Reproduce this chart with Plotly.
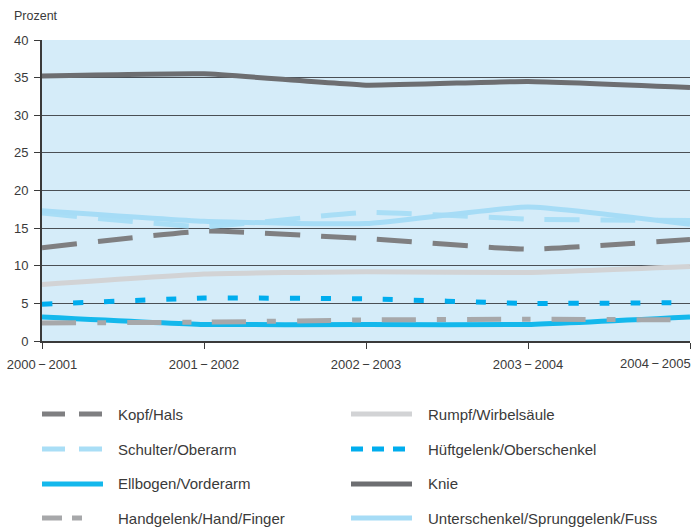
import plotly.graph_objects as go

W, H = 694, 528
# plot area in page pixels
PX0, PX1, PY0, PY1 = 42, 690, 40, 341
ML = PX0
MR = W - PX1
MT = PY0
MB = H - PY1

period_labels = ["2000\u2009\u2212\u20092001", "2001\u2009\u2212\u20092002", "2002\u2009\u2212\u20092003",
                 "2003\u2009\u2212\u20092004", "2004\u2009\u2212\u20092005"]
x_pos = [0, 1, 2, 3, 4]

kopf_hals = [12.4, 14.6, 13.6, 12.2, 13.5]
rumpf = [7.5, 8.9, 9.2, 9.1, 9.9]
schulter = [17.0, 15.2, 17.1, 16.2, 16.0]
hueftgelenk = [4.9, 5.7, 5.6, 5.0, 5.1]
ellbogen = [3.2, 2.2, 2.2, 2.2, 3.2]
knie = [35.2, 35.5, 34.0, 34.5, 33.7]
handgelenk = [2.4, 2.5, 2.8, 2.9, 2.8]
unterschenkel = [17.3, 15.9, 15.6, 17.8, 15.5]

y_ticks = [0, 5, 10, 15, 20, 25, 30, 35, 40]

# name, values, colour, plot dash, legend dash
series = [
    ("Kopf/Hals", kopf_hals, "#7f7f81", "35px,21px", "23px,14px"),
    ("Rumpf/Wirbelsäule", rumpf, "#d2d3d5", "solid", "solid"),
    ("Schulter/Oberarm", schulter, "#a9def6", "35px,21px", "23px,14px"),
    ("Hüftgelenk/Oberschenkel", hueftgelenk, "#00adee", "10px,21px", "12px,9px"),
    ("Ellbogen/Vorderarm", ellbogen, "#14b8ec", "solid", "solid"),
    ("Knie", knie, "#6d6e71", "solid", "solid"),
    ("Handgelenk/Hand/Finger", handgelenk, "#a7a8aa", "34px,21px,9px,21px", "20px,10px,10px,60px"),
    ("Unterschenkel/Sprunggelenk/Fuss", unterschenkel, "#a6dcf6", "solid", "solid"),
]
draw_order = [1, 4, 6, 3, 0, 2, 7, 5]

FONT = "Liberation Sans, Arial, sans-serif"
TXT = "#3a3a3a"

fig = go.Figure()
for i in draw_order:
    name, vals, col, dash, _ = series[i]
    fig.add_trace(go.Scatter(
        x=x_pos, y=vals, mode="lines", name=name,
        line=dict(color=col, width=5, dash=dash, shape="spline", smoothing=0.4),
        showlegend=False, hoverinfo="skip",
    ))

pw = PX1 - PX0
ph = PY1 - PY0
def px_x(px):
    return (px - PX0) / pw
def px_y(py):
    return (PY1 - py) / ph

# manual legend, two columns x four rows
col_sym_x = [42, 351]
col_txt_x = [116, 426]
sym_len = 61
row_y = [414, 449, 484, 518]

shapes = []
annotations = []
for k, (name, vals, col, _, ldash) in enumerate(series):
    r, c = k // 2, k % 2
    y = px_y(row_y[r])
    shapes.append(dict(
        type="line", xref="paper", yref="paper",
        x0=px_x(col_sym_x[c]), x1=px_x(col_sym_x[c] + sym_len),
        y0=y, y1=y,
        line=dict(color=col, width=5, dash=ldash),
    ))
    annotations.append(dict(
        text=name, xref="paper", yref="paper",
        x=px_x(col_txt_x[c]), y=y, xanchor="left", yanchor="middle",
        showarrow=False, font=dict(family=FONT, size=15, color=TXT),
    ))

annotations.append(dict(
    text="Prozent", xref="paper", yref="paper",
    x=px_x(12), y=px_y(16), xanchor="left", yanchor="middle",
    showarrow=False, font=dict(family=FONT, size=12.5, color=TXT),
))
# last x label right-aligned so it stays inside the page
annotations.append(dict(
    text=period_labels[-1], xref="x", yref="paper",
    x=x_pos[-1], y=px_y(363), xanchor="right", yanchor="middle", xshift=3,
    showarrow=False, font=dict(family=FONT, size=13, color=TXT),
))

ticktext = period_labels[:-1] + [""]

fig.update_layout(
    width=W, height=H,
    margin=dict(l=ML, r=MR, t=MT, b=MB, pad=0),
    paper_bgcolor="white",
    plot_bgcolor="#d5ecf9",
    shapes=shapes,
    annotations=annotations,
    showlegend=False,
    font=dict(family=FONT, size=13, color=TXT),
)
fig.update_xaxes(
    range=[0, 4], tickvals=x_pos, ticktext=ticktext,
    showgrid=False, zeroline=False,
    showline=True, linecolor="#3a3a3a", linewidth=2,
    ticks="outside", ticklen=6, tickcolor="#3a3a3a", tickwidth=1,
    ticklabelstandoff=4, ticklabeloverflow="allow",
    tickfont=dict(family=FONT, size=13, color=TXT),
)
fig.update_yaxes(
    range=[0, 40], tickvals=y_ticks,
    showgrid=True, gridcolor="#4a4f55", gridwidth=1, zeroline=False,
    showline=True, linecolor="#3a3a3a", linewidth=2,
    ticks="outside", ticklen=6, tickcolor="#3a3a3a", tickwidth=1,
    ticklabelstandoff=3,
    tickfont=dict(family=FONT, size=13, color=TXT),
)

fig.write_html(
    "out.html",
    config={"displayModeBar": False, "staticPlot": True},
    post_script="document.body.style.margin='0';document.body.style.overflow='hidden';",
)
